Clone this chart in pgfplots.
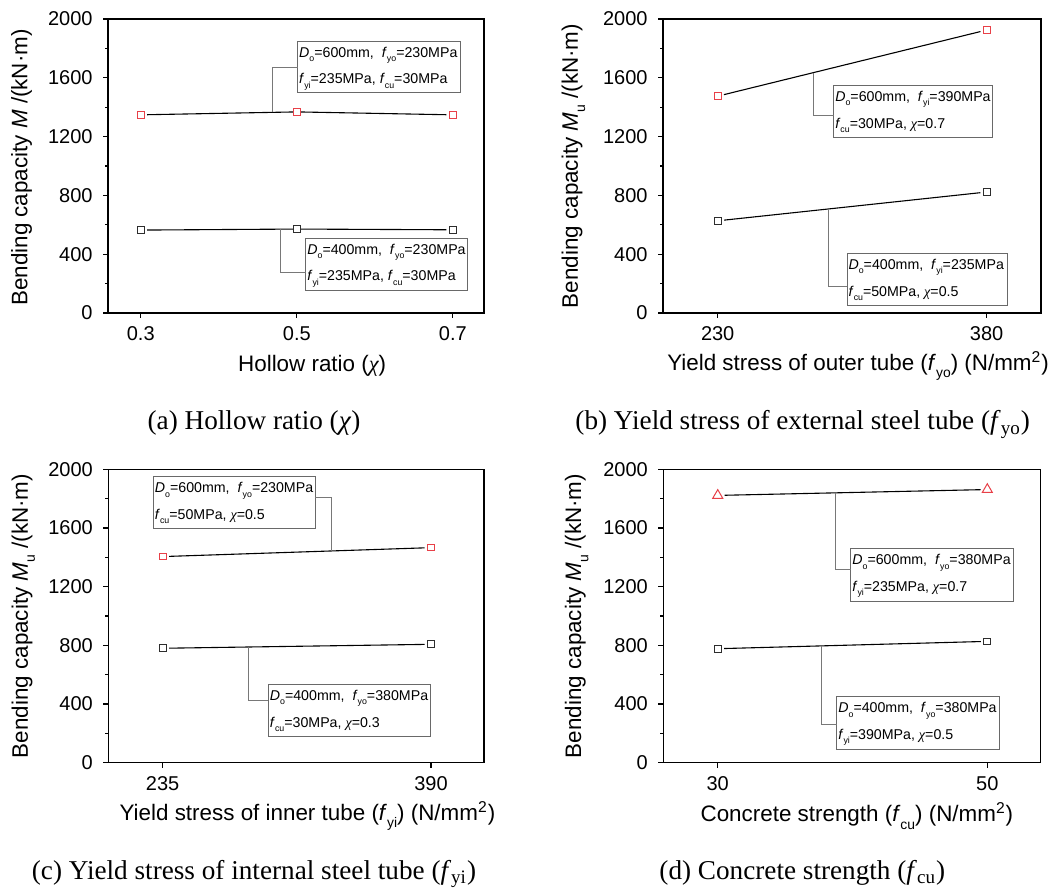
\documentclass[border=0pt]{standalone}
\usepackage{fontspec}
\setmainfont{Liberation Sans}
\newfontfamily\timesfont{Liberation Serif}
\usepackage{graphicx}
\usepackage{pgfplots}
\pgfplotsset{compat=1.18}

\definecolor{mred}{RGB}{232,64,72}
\definecolor{mblk}{RGB}{45,45,45}
\definecolor{boxgray}{RGB}{105,105,105}
\definecolor{callgray}{RGB}{120,120,120}

\newcommand{\sub}[1]{\raisebox{-0.6ex}{\scalebox{0.62}{#1}}}
\newcommand{\Do}{\textit{D}\sub{o}}
\newcommand{\ff}[1]{\textit{f}\sub{#1}}
\newcommand{\chii}{{\timesfont\itshape χ}}
\newcommand{\labfont}{\fontsize{11.2}{13}\selectfont}
\newcommand{\tickfont}{\fontsize{10}{12}\selectfont}
\newcommand{\boxfont}{\fontsize{7.1}{9}\selectfont}

\tikzset{call/.style={callgray, line width=0.5pt}}

% box: x1, ytop, x2, ybottom, line1, line2
\newcommand{\annbox}[6]{%
  \draw[boxgray, line width=0.45pt] (axis cs:#1,#2) rectangle (axis cs:#3,#4);
  \node[anchor=base west, inner sep=0pt, xshift=0.6pt, font=\boxfont] at (axis cs:#1,#2-109) {#5};
  \node[anchor=base west, inner sep=0pt, xshift=0.6pt, font=\boxfont] at (axis cs:#1,#2-291) {#6};
}

\pgfplotsset{
  panel/.style={
    scale only axis,
    axis line style={line width=0.6pt, black},
    tick align=outside,
    tick style={line width=0.6pt, black},
    major tick length=2.5pt,
    minor tick length=1.5pt,
    xtick pos=bottom, ytick pos=left,
    ymin=0, ymax=2000, ytick={0,400,...,2000},
    minor y tick num=1,
    /pgf/number format/assume math mode=true,
    /pgf/number format/1000 sep={},
    yticklabel style={font=\tickfont, xshift=-1.7pt},
    xticklabel style={font=\tickfont, yshift=-0.8pt},
    clip=false,
  },
  redser/.style={line width=0.55pt, black, mark=square*, mark size=1.67pt,
    mark options={draw=mred, fill=white, line width=0.5pt, solid},
    shorten <=3.2pt, shorten >=3.2pt},
  blkser/.style={line width=0.55pt, black, mark=square*, mark size=1.67pt,
    mark options={draw=mblk, fill=white, line width=0.5pt, solid},
    shorten <=3.2pt, shorten >=3.2pt},
  triser/.style={line width=0.55pt, black, mark=triangle*, mark size=2.9pt,
    mark options={draw=mred, fill=white, line width=0.5pt, solid},
    shorten <=3.4pt, shorten >=3.4pt},
}

\begin{document}
\begin{tikzpicture}
\useasboundingbox (0,0) rectangle (528.5pt,444.5pt);

% ---------- (a)
\begin{axis}[panel, at={(54pt,288pt)}, anchor=south west, width=188pt, height=147pt,
  xmin=0.258, xmax=0.740, xtick={0.3,0.5,0.7}, xticklabels={0.3,0.5,0.7},
  ylabel={Bending capacity \textit{M} /(kN·m)},
  xlabel={Hollow ratio (\chii)},
  every axis y label/.style={at={(axis description cs:-0.2295,0.495)}, rotate=90, anchor=center, font=\labfont},
  every axis x label/.style={at={(axis description cs:0.543,-0.179)}, anchor=center, font=\labfont}]
\addplot[redser] coordinates {(0.3,1348) (0.5,1368) (0.7,1348)};
\addplot[blkser] coordinates {(0.3,564) (0.5,571) (0.7,566)};
\annbox{0.501}{1850}{0.710}{1497}{\Do=600mm,\ \ \ff{yo}=230MPa}{\ff{yi}=235MPa, \ff{cu}=30MPa}
\annbox{0.5115}{510}{0.719}{156}{\Do=400mm,\ \ \ff{yo}=230MPa}{\ff{yi}=235MPa, \ff{cu}=30MPa}
\draw[call] (axis cs:0.469,1364) -- (axis cs:0.469,1669) -- (axis cs:0.501,1669);
\draw[call] (axis cs:0.479,569) -- (axis cs:0.479,274) -- (axis cs:0.5115,274);
\end{axis}

% ---------- (b)
\begin{axis}[panel, at={(331.5pt,288pt)}, anchor=south west, width=189pt, height=147pt,
  xmin=199.5, xmax=410.3, xtick={230,380}, xticklabels={230,380},
  ylabel={Bending capacity \textit{M}\sub{u} /(kN·m)},
  xlabel={Yield stress of outer tube (\ff{yo}) (N/mm\textsuperscript{2})},
  every axis y label/.style={at={(axis description cs:-0.237,0.5)}, rotate=90, anchor=center, font=\labfont},
  every axis x label/.style={at={(axis description cs:0.516,-0.18)}, anchor=center, font=\labfont}]
\addplot[redser] coordinates {(230,1475) (380,1925)};
\addplot[blkser] coordinates {(230,627) (380,823)};
\annbox{294.7}{1548}{383.5}{1196}{\Do=600mm,\ \ \ff{yi}=390MPa}{\ff{cu}=30MPa, \chii=0.7}
\annbox{302.1}{405}{391.4}{48}{\Do=400mm,\ \ \ff{yi}=235MPa}{\ff{cu}=50MPa, \chii=0.5}
\draw[call] (axis cs:283.2,1635) -- (axis cs:283.2,1341) -- (axis cs:294.7,1341);
\draw[call] (axis cs:291.7,707) -- (axis cs:291.7,177) -- (axis cs:302.1,177);
\end{axis}

% ---------- (c)
\begin{axis}[panel, at={(54.15pt,63.15pt)}, anchor=south west, width=187.85pt, height=146.7pt,
  xmin=203.6, xmax=420.6, xtick={235,390}, xticklabels={235,390},
  ylabel={Bending capacity \textit{M}\sub{u} /(kN·m)},
  xlabel={Yield stress of inner tube (\ff{yi}) (N/mm\textsuperscript{2})},
  every axis y label/.style={at={(axis description cs:-0.226,0.5)}, rotate=90, anchor=center, font=\labfont},
  every axis x label/.style={at={(axis description cs:0.530,-0.182)}, anchor=center, font=\labfont}]
\addplot[redser] coordinates {(235,1405) (390,1466)};
\addplot[blkser] coordinates {(235,780) (390,807)};
\annbox{229.6}{1950}{323.2}{1598}{\Do=600mm,\ \ \ff{yo}=230MPa}{\ff{cu}=50MPa, \chii=0.5}
\annbox{296.0}{534}{389.8}{177}{\Do=400mm,\ \ \ff{yo}=380MPa}{\ff{cu}=30MPa, \chii=0.3}
\draw[call] (axis cs:323.2,1807) -- (axis cs:332.6,1807) -- (axis cs:332.6,1443);
\draw[call] (axis cs:284.5,789) -- (axis cs:284.5,423) -- (axis cs:296.0,423);
\end{axis}

% ---------- (d)
\begin{axis}[panel, at={(331.65pt,63.15pt)}, anchor=south west, width=188.7pt, height=146.7pt,
  xmin=25.96, xmax=53.96, xtick={30,50}, xticklabels={30,50},
  ylabel={Bending capacity \textit{M}\sub{u} /(kN·m)},
  xlabel={Concrete strength (\ff{cu}) (N/mm\textsuperscript{2})},
  every axis y label/.style={at={(axis description cs:-0.2295,0.5)}, rotate=90, anchor=center, font=\labfont},
  every axis x label/.style={at={(axis description cs:0.513,-0.182)}, anchor=center, font=\labfont}]
\addplot[triser] coordinates {(30,1822) (50,1862)};
\addplot[blkser] coordinates {(30,777) (50,827)};
\annbox{39.87}{1459}{51.96}{1100}{\Do=600mm,\ \ \ff{yo}=380MPa}{\ff{yi}=235MPa, \chii=0.7}
\annbox{38.83}{450}{50.89}{91}{\Do=400mm,\ \ \ff{yo}=380MPa}{\ff{yi}=390MPa, \chii=0.5}
\draw[call] (axis cs:38.70,1838) -- (axis cs:38.70,1320) -- (axis cs:39.87,1320);
\draw[call] (axis cs:37.71,796) -- (axis cs:37.71,257) -- (axis cs:38.83,257);
\end{axis}

% captions
\node[anchor=base, font=\timesfont\fontsize{13.6}{15}\selectfont] at (127pt,229.5pt) {(a) Hollow ratio (\textit{χ})};
\node[anchor=base, font=\timesfont\fontsize{13.6}{15}\selectfont] at (401.35pt,229.5pt) {(b) Yield stress of external steel tube (\textit{f}\textsubscript{yo})};
\node[anchor=base, font=\timesfont\fontsize{13.6}{15}\selectfont] at (127pt,4.85pt) {(c) Yield stress of internal steel tube (\textit{f}\textsubscript{yi})};
\node[anchor=base, font=\timesfont\fontsize{13.6}{15}\selectfont] at (401.15pt,4.85pt) {(d) Concrete strength (\textit{f}\textsubscript{cu})};
\end{tikzpicture}
\end{document}
